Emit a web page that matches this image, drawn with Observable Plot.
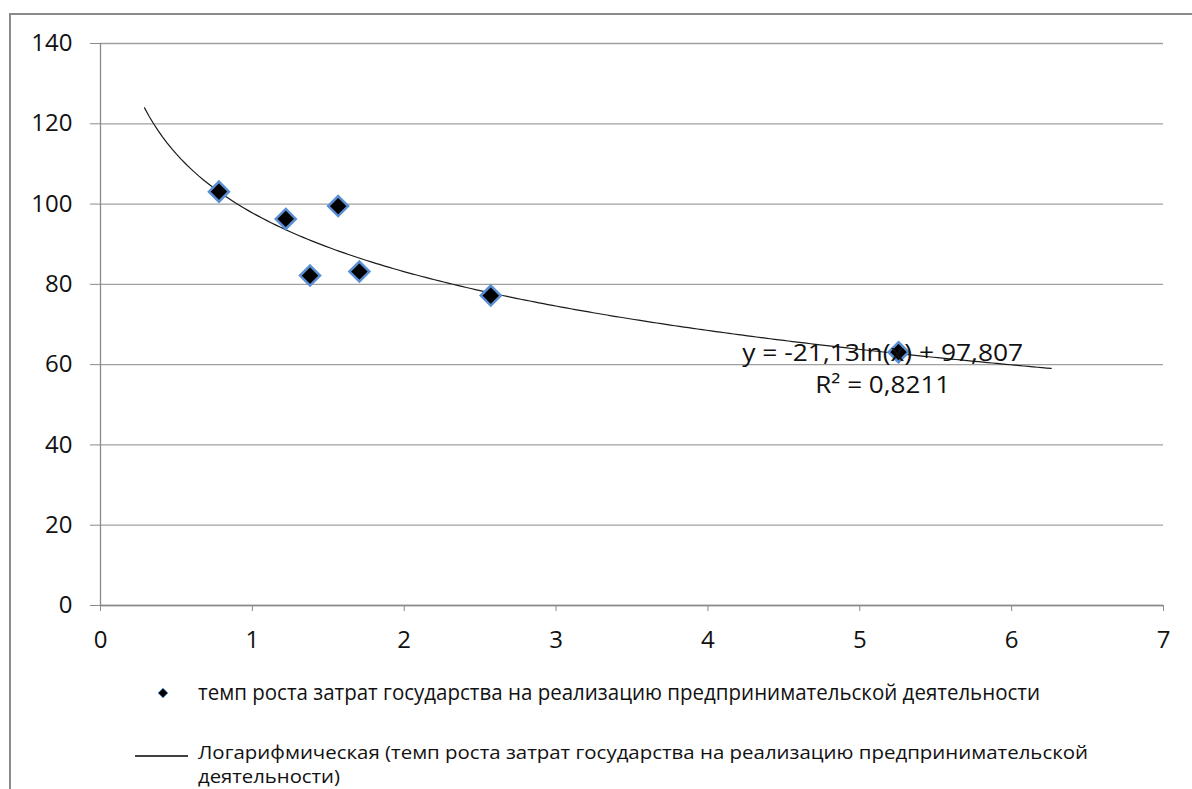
<!DOCTYPE html>
<html>
<head>
<meta charset="utf-8">
<script src="https://cdn.jsdelivr.net/npm/d3@7"></script>
<script src="https://cdn.jsdelivr.net/npm/@observablehq/plot@0.6"></script>
<style>
  html, body { margin: 0; padding: 0; background: #fff; overflow: hidden; }
  #wrap { position: relative; width: 1192px; height: 789px; }
  #frame { position: absolute; left: 9px; top: 13px; width: 1300px; height: 900px;
           border: 2px solid #8a8a8a; box-sizing: border-box; }
  #chart { position: absolute; left: 0; top: 0; }
</style>
</head>
<body>
<div id="wrap"><div id="frame"></div><div id="chart"></div></div>
<script>
// Data
const xValues = [0.78, 1.22, 1.565, 1.38, 1.705, 2.57, 5.255];
const yValues = [103.1, 96.3, 99.5, 82.2, 83.2, 77.2, 63.1];
// Logarithmic trendline as labelled on the chart: y = a*ln(x) + b
const trendA = -21.13;
const trendB = 97.807;
const trendFrom = 0.29;
const trendTo = 6.26;
const xTicks = [0, 1, 2, 3, 4, 5, 6, 7];
const yTicks = [0, 20, 40, 60, 80, 100, 120, 140];
const equationLines = ["y = -21,13ln(x) + 97,807", "R² = 0,8211"];
const equationX = [5.151, 5.151];
const equationY = [62.9, 54.9];
const legendLabels = [
  "темп роста затрат государства на реализацию предпринимательской деятельности",
  "Логарифмическая (темп роста затрат государства на реализацию предпринимательской",
  "деятельности)"
];

const points = xValues.map((x, i) => ({x, y: yValues[i]}));
const trend = d3.range(0, 201).map(i => {
  const x = trendFrom + (trendTo - trendFrom) * i / 200;
  return {x, y: trendA * Math.log(x) + trendB};
});
const eq = equationLines.map((t, i) => ({t, x: equationX[i], y: equationY[i]}));

const font = "'Open Sans', sans-serif";
const plot = Plot.plot({
  width: 1192,
  height: 789,
  marginLeft: 100,
  marginRight: 29,
  marginTop: 43,
  marginBottom: 184,
  style: {fontFamily: font, fontSize: "24px", color: "#111", background: "transparent", overflow: "visible"},
  x: {domain: [0, 7]},
  y: {domain: [0, 140]},
  marks: [
    Plot.gridY(yTicks, {stroke: "#a0a0a0", strokeOpacity: 1, strokeWidth: 1.3}),
    Plot.axisY(yTicks, {tickSize: 10, tickPadding: 18, stroke: "#8a8a8a", label: null, fill: "#111", tickFormat: "d"}),
    Plot.axisX(xTicks, {tickSize: 6, tickPadding: 19, stroke: "#8a8a8a", label: null, fill: "#111", tickFormat: "d"}),
    Plot.ruleX([0], {stroke: "#8a8a8a", strokeWidth: 1.3}),
    Plot.ruleY([0], {stroke: "#8a8a8a", strokeWidth: 1.3}),
    Plot.line(trend, {x: "x", y: "y", stroke: "#1a1a1a", strokeWidth: 1.2}),
    Plot.dot(points, {x: "x", y: "y", symbol: "diamond2", r: 9, fill: "#000", stroke: "#5b8fd3", strokeWidth: 2.5}),
    Plot.text(eq, {x: "x", y: "y", text: "t", fontSize: 24, fill: "#111", textAnchor: "middle"})
  ]
});
document.getElementById("chart").appendChild(plot);

// Legend drawn into the same SVG below the plot area
const svg = d3.select(plot);
const lg = svg.append("g").attr("font-family", font).attr("fill", "#111")
  .attr("text-anchor", "start");
const sym = d3.symbol(d3.symbolDiamond2, 60)();
lg.append("path").attr("d", sym).attr("transform", "translate(163,693)").attr("fill", "#000").attr("stroke", "#5b8fd3").attr("stroke-width", 1);
lg.append("text").attr("x", 198).attr("y", 693).attr("dy", "0.35em").attr("font-size", 21)
  .attr("textLength", 842).attr("lengthAdjust", "spacingAndGlyphs").text(legendLabels[0]);
lg.append("line").attr("x1", 135).attr("x2", 188).attr("y1", 756).attr("y2", 756).attr("stroke", "#000").attr("stroke-width", 1.5);
lg.append("text").attr("x", 198).attr("y", 753).attr("dy", "0.35em").attr("font-size", 18)
  .attr("textLength", 890).attr("lengthAdjust", "spacingAndGlyphs").text(legendLabels[1]);
lg.append("text").attr("x", 198).attr("y", 777).attr("dy", "0.35em").attr("font-size", 18)
  .attr("textLength", 142).attr("lengthAdjust", "spacingAndGlyphs").text(legendLabels[2]);
// fit equation labels to their widths in the picture
const eqWidths = [281, 135];
svg.selectAll("g[aria-label='text'] text").each(function(d, i) {
  d3.select(this).attr("textLength", eqWidths[i]).attr("lengthAdjust", "spacingAndGlyphs");
});
</script>
</body>
</html>
